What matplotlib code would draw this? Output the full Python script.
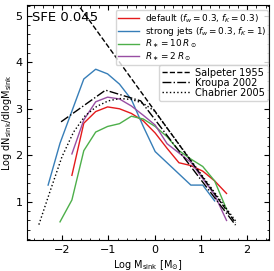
import numpy as np
import matplotlib
matplotlib.use("Agg")
import matplotlib.pyplot as plt
from matplotlib.ticker import MultipleLocator

# histogram bin centres (log M_sink)
log_m = [-2.300, -2.043, -1.786, -1.529, -1.272, -1.015, -0.758, -0.501,
         -0.244, 0.013, 0.270, 0.527, 0.784, 1.041, 1.298, 1.555]

# log dN/dlogM for each run (NaN = empty bin)
nan = np.nan
default = [nan, nan, 1.57, 2.69, 2.94, 3.04, 3.00, 2.90,
           2.74, 2.48, 2.15, 1.84, 1.78, 1.66, 1.45, 1.18]
strong_jets = [1.36, 2.26, 2.95, 3.64, 3.85, 3.75, 3.53, 3.20,
               2.62, 2.08, 1.84, 1.60, 1.36, 1.36, 1.02, nan]
r10 = [nan, 0.57, 1.04, 2.10, 2.50, 2.62, 2.68, 2.84,
       2.78, 2.62, 2.40, 2.10, 1.92, 1.76, 1.45, 0.84]
r2 = [nan, nan, 2.03, 2.76, 3.15, 3.25, 3.21, 3.06,
      2.86, 2.65, 2.25, 2.05, 1.85, 1.50, 1.15, 0.60]

# reference IMFs
salpeter_x = [-1.70, 1.75]
salpeter_y = [5.30, 0.55]
kroupa_x = [-2.02, -1.06, -0.30, 1.75]
kroupa_y = [2.72, 3.40, 3.17, 0.50]
chabrier_x = [-2.50, -2.25, -2.00, -1.75, -1.50, -1.25, -1.00, -0.75,
              -0.50, -0.25, 0.00, 1.75]
chabrier_y = [0.51, 1.25, 1.97, 2.50, 2.85, 3.05, 3.17, 3.22,
              3.20, 3.12, 2.95, 0.59]

fig = plt.figure(figsize=(2.74, 2.71), dpi=100)
ax = fig.add_axes([0.0996, 0.1144, 0.8834, 0.8671])

runs = [
    (default, '#e41a1c', r'default ($f_w=0.3$, $f_K=0.3$)'),
    (strong_jets, '#377eb8', r'strong jets ($f_w=0.3$, $f_K=1$)'),
    (r10, '#4daf4a', r'$R_\ast=10\,R_\odot$'),
    (r2, '#984ea3', r'$R_\ast=2\,R_\odot$'),
]
run_lines = []
for vals, col, lab in runs:
    ln, = ax.plot(log_m, vals, color=col, lw=1.0, label=lab)
    run_lines.append(ln)

ref_lines = []
ln, = ax.plot(salpeter_x, salpeter_y, 'k--', lw=1.0, label='Salpeter 1955')
ref_lines.append(ln)
ln, = ax.plot(kroupa_x, kroupa_y, 'k-.', lw=1.0, label='Kroupa 2002')
ref_lines.append(ln)
ln, = ax.plot(chabrier_x, chabrier_y, 'k:', lw=1.0, label='Chabrier 2005')
ref_lines.append(ln)

ax.text(0.02, 0.975, 'SFE 0.045', transform=ax.transAxes, fontsize=9.5,
        ha='left', va='top')

leg1 = ax.legend(handles=run_lines, loc='upper right', fontsize=6.4,
                 labelspacing=0.0, handlelength=2.4, borderpad=0.25,
                 handletextpad=0.6, borderaxespad=0,
                 bbox_to_anchor=(0.995, 0.979))
ax.add_artist(leg1)
ax.legend(handles=ref_lines, loc='upper right', fontsize=7.0,
          labelspacing=0.0, handlelength=2.8, borderpad=0.3,
          handletextpad=0.6, borderaxespad=0,
          bbox_to_anchor=(0.995, 0.745))

ax.set_xlim(-2.75, 2.48)
ax.set_ylim(0.18, 5.23)
ax.xaxis.set_major_locator(MultipleLocator(1))
ax.xaxis.set_minor_locator(MultipleLocator(0.2))
ax.yaxis.set_major_locator(MultipleLocator(1))
ax.yaxis.set_minor_locator(MultipleLocator(0.2))
ax.tick_params(which='both', direction='in', top=True, right=True,
               labelsize=8)
ax.tick_params(which='major', length=3.5)
ax.tick_params(which='minor', length=1.8)

ax.set_xlabel(r'Log M$_{\rm sink}$ [M$_{\odot}$]', fontsize=7, labelpad=2)
ax.set_ylabel(r'Log dN$_{\rm sink}$/dlogM$_{\rm sink}$', fontsize=7,
              labelpad=1)

fig.savefig('out.png', dpi=100)
